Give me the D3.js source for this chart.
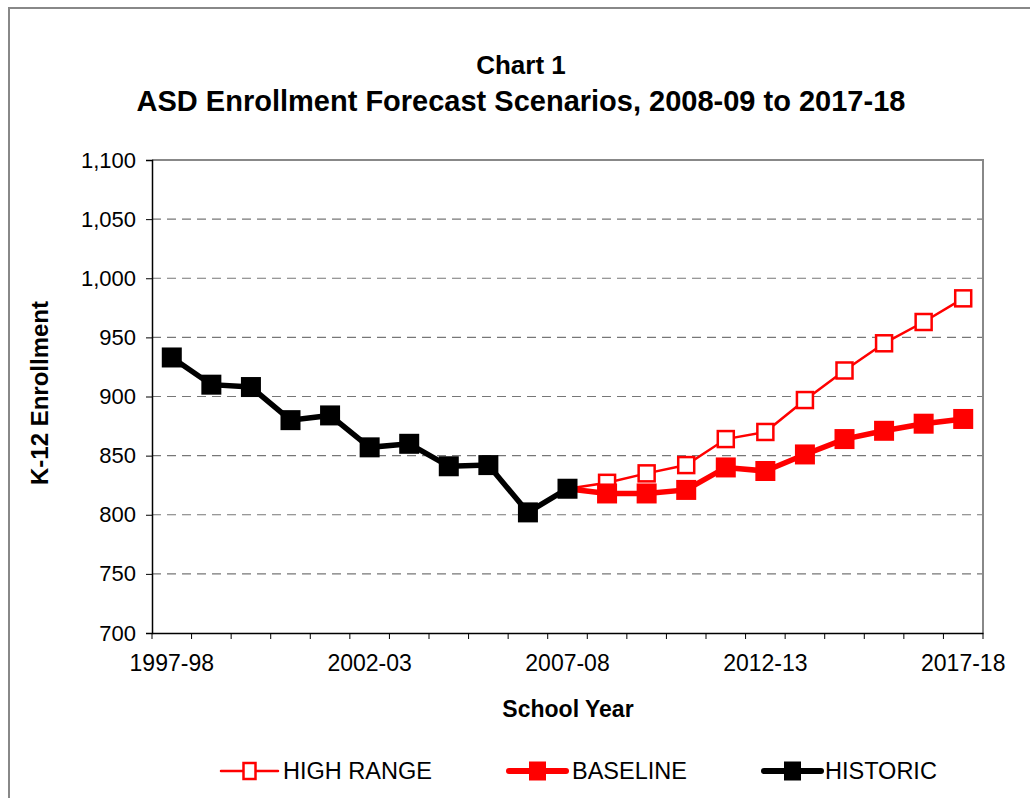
<!DOCTYPE html>
<html>
<head>
<meta charset="utf-8">
<script src="https://cdn.jsdelivr.net/npm/d3@7"></script>
<style>
body{margin:0;background:#fff;}
text{font-family:"Liberation Sans",Arial,sans-serif;}
</style>
</head>
<body>
<script>
var width=1030,height=798;

// data
var years=["1997-98","1998-99","1999-00","2000-01","2001-02","2002-03","2003-04","2004-05","2005-06","2006-07",
           "2007-08","2008-09","2009-10","2010-11","2011-12","2012-13","2013-14","2014-15","2015-16","2016-17","2017-18"];
var historic=[933,910,908,880,884,857,860,841,842,802,822];
var baseline=[822,818,818,821,840,837,851,864,871,877,881];
var highRange=[822,827,835,842,864,870,897,922,945,963,983];
var yTicks=[700,750,800,850,900,950,1000,1050,1100];
var xLabelYears=["1997-98","2002-03","2007-08","2012-13","2017-18"];

var pLeft=152,pRight=983,pTop=160,pBottom=633;

var svg=d3.select("body").append("svg").attr("width",width).attr("height",height);

// outer frame
svg.append("path").attr("d","M9,798 V8 H1030").attr("fill","none").attr("stroke","#888").attr("stroke-width",2);

var x=d3.scaleBand().domain(years).range([pLeft,pRight]);
var xc=function(i){return x(years[i])+x.bandwidth()/2;};
var y=d3.scaleLinear().domain([700,1100]).range([pBottom,pTop]);

// gridlines
svg.append("g").selectAll("line").data(yTicks.filter(function(d){return d>700&&d<1100;}))
   .enter().append("line")
   .attr("x1",pLeft).attr("x2",pRight)
   .attr("y1",function(d){return y(d);}).attr("y2",function(d){return y(d);})
   .attr("stroke","#777").attr("stroke-width",1.2).attr("stroke-dasharray","9,6");

// plot frame top & right
svg.append("path").attr("d","M"+pLeft+","+pTop+" H"+pRight+" V"+pBottom).attr("fill","none").attr("stroke","#888").attr("stroke-width",2);

// y axis
var yAxis=d3.axisLeft(y).tickValues(yTicks).tickSize(6).tickPadding(10).tickFormat(d3.format(","));
var gy=svg.append("g").attr("transform","translate("+pLeft+",0)").call(yAxis);
gy.select(".domain").attr("stroke","#000").attr("stroke-width",1.5);
gy.selectAll(".tick line").attr("stroke","#000");
gy.selectAll("text").attr("font-size",22).attr("fill","#000").attr("font-family","Liberation Sans, Arial, sans-serif");

// x axis
var xAxis=d3.axisBottom(x).tickSize(0).tickPadding(22)
    .tickFormat(function(d){return xLabelYears.indexOf(d)>=0?d:"";});
var gx=svg.append("g").attr("transform","translate(0,"+pBottom+")").call(xAxis);
gx.select(".domain").attr("stroke","#000").attr("stroke-width",1.5);
gx.selectAll("text").attr("font-size",23).attr("fill","#000").attr("font-family","Liberation Sans, Arial, sans-serif");
// category boundary ticks
var bounds=years.map(function(d){return x(d);}).concat([pRight]);
svg.append("g").selectAll("line").data(bounds).enter().append("line")
   .attr("x1",function(d){return d;}).attr("x2",function(d){return d;})
   .attr("y1",pBottom).attr("y2",pBottom+6).attr("stroke","#000").attr("stroke-width",1);

var line=d3.line().x(function(d){return d.x;}).y(function(d){return y(d.v);});
function pts(arr,offset){return arr.map(function(v,i){return {x:xc(i+offset),v:v};});}

// high range
var hr=pts(highRange,10);
svg.append("path").datum(hr).attr("d",line).attr("fill","none").attr("stroke","#ff0000").attr("stroke-width",2.5);
svg.append("g").selectAll("rect").data(hr.slice(1)).enter().append("rect")
   .attr("x",function(d){return d.x-8;}).attr("y",function(d){return y(d.v)-8;})
   .attr("width",16).attr("height",16).attr("fill","#fff").attr("stroke","#ff0000").attr("stroke-width",2.5);

// baseline
var bl=pts(baseline,10);
svg.append("path").datum(bl).attr("d",line).attr("fill","none").attr("stroke","#ff0000").attr("stroke-width",5.5);
svg.append("g").selectAll("rect").data(bl.slice(1)).enter().append("rect")
   .attr("x",function(d){return d.x-10;}).attr("y",function(d){return y(d.v)-10;})
   .attr("width",20).attr("height",20).attr("fill","#ff0000");

// historic
var hi=pts(historic,0);
svg.append("path").datum(hi).attr("d",line).attr("fill","none").attr("stroke","#000").attr("stroke-width",5.5);
svg.append("g").selectAll("rect").data(hi).enter().append("rect")
   .attr("x",function(d){return d.x-10;}).attr("y",function(d){return y(d.v)-10;})
   .attr("width",20).attr("height",20).attr("fill","#000");

// titles
svg.append("text").attr("x",521).attr("y",74).attr("text-anchor","middle")
   .attr("font-size",26).attr("font-weight","bold").text("Chart 1");
svg.append("text").attr("x",521).attr("y",111).attr("text-anchor","middle")
   .attr("font-size",29).attr("font-weight","bold").text("ASD Enrollment Forecast Scenarios, 2008-09 to 2017-18");
svg.append("text").attr("x",568).attr("y",717).attr("text-anchor","middle")
   .attr("font-size",23).attr("font-weight","bold").text("School Year");
svg.append("text").attr("transform","translate(48,393) rotate(-90)").attr("text-anchor","middle")
   .attr("font-size",24).attr("font-weight","bold").text("K-12 Enrollment");

// legend
var legend=[
  {name:"HIGH RANGE",x:221,tx:283,w:2.5,fill:"#fff",stroke:"#ff0000",color:"#ff0000",sw:12,sh:16},
  {name:"BASELINE",x:509,tx:572,w:6,fill:"#ff0000",stroke:"none",color:"#ff0000",sw:17,sh:19},
  {name:"HISTORIC",x:764,tx:825,w:6,fill:"#000",stroke:"none",color:"#000",sw:17,sh:19}
];
var ly=771;
var lg=svg.append("g").selectAll("g").data(legend).enter().append("g");
lg.append("line").attr("x1",function(d){return d.x;}).attr("x2",function(d){return d.x+57;})
  .attr("y1",ly).attr("y2",ly).attr("stroke",function(d){return d.color;}).attr("stroke-width",function(d){return d.w;})
  .attr("stroke-linecap","round");
lg.append("rect").attr("x",function(d){return d.x+28.5-d.sw/2;}).attr("y",function(d){return ly-d.sh/2;})
  .attr("width",function(d){return d.sw;}).attr("height",function(d){return d.sh;})
  .attr("fill",function(d){return d.fill;}).attr("stroke",function(d){return d.stroke;}).attr("stroke-width",2.5);
lg.append("text").attr("x",function(d){return d.tx;}).attr("y",ly+8)
  .attr("font-size",23.5).text(function(d){return d.name;});
</script>
</body>
</html>
